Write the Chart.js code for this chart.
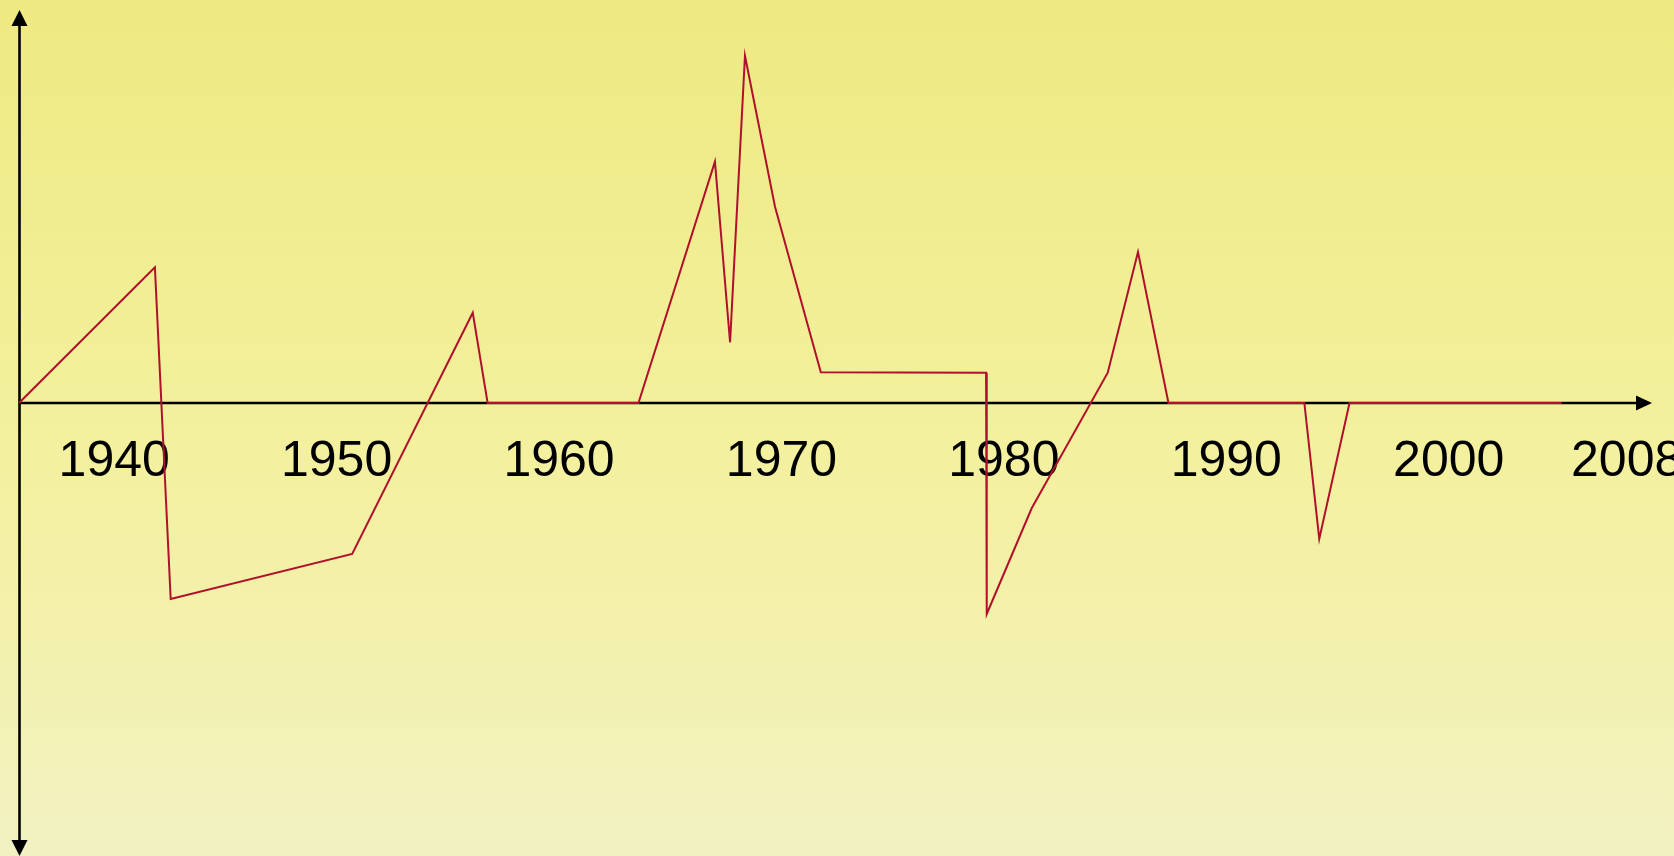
<!DOCTYPE html>
<html>
<head>
<meta charset="utf-8">
<title>Timeline</title>
<script src="https://cdn.jsdelivr.net/npm/chart.js@4/dist/chart.umd.min.js"></script>
<style>
  html, body { margin: 0; padding: 0; background: #f1ee9c; }
  canvas { display: block; }
</style>
</head>
<body>
<canvas id="chart" width="1674" height="856"></canvas>
<script>
// Years along the horizontal axis and the swing above / below the baseline
const years = [1935.72, 1941.83, 1942.54, 1950.70, 1956.12, 1956.79, 1963.57,
               1967.01, 1967.69, 1968.36, 1969.71, 1971.77, 1979.20, 1979.23,
               1981.25, 1984.67, 1986.03, 1987.40, 1993.51, 1994.18, 1995.54, 2005.08];
const swing = [0, 13.57, -19.6, -15.1, 9.03, 0, 0,
               24.13, 6.07, 34.73, 19.63, 3.07, 3.03, -21.1,
               -10.53, 3.03, 15.1, 0, 0, -13.6, 0, 0];
const tickYears = [1940, 1950, 1960, 1970, 1980, 1990, 2000, 2008];

const xRange = [1935.72, 2009.14];
const yRange = [-45.3, 39.3];

const points = years.map((x, i) => ({ x: x, y: swing[i] }));

// Soft yellow backdrop across the whole canvas
const backdrop = {
  id: 'backdrop',
  beforeDraw(chart) {
    const { ctx, width, height } = chart;
    const g = ctx.createLinearGradient(0, 0, 0, height);
    g.addColorStop(0, '#eee981');
    g.addColorStop(0.25, '#f0ed90');
    g.addColorStop(0.5, '#f3f09d');
    g.addColorStop(0.75, '#f3f1ad');
    g.addColorStop(1, '#f1f1c2');
    ctx.save();
    ctx.fillStyle = g;
    ctx.fillRect(0, 0, width, height);
    ctx.restore();
  }
};

// Axis lines with arrowheads: vertical at the left edge, horizontal along zero
const arrowAxes = {
  id: 'arrowAxes',
  beforeDatasetsDraw(chart) {
    const { ctx, chartArea } = chart;
    const y0 = chart.scales.y.getPixelForValue(0);
    const x0 = chartArea.left + 0.5;
    const head = 16, half = 8;
    ctx.save();
    ctx.strokeStyle = '#000';
    ctx.fillStyle = '#000';
    ctx.lineWidth = 2.6;

    ctx.beginPath();
    ctx.moveTo(x0, chartArea.top + head - 1);
    ctx.lineTo(x0, chartArea.bottom - head + 1);
    ctx.stroke();
    ctx.beginPath();
    ctx.moveTo(x0, chartArea.top);
    ctx.lineTo(x0 - half, chartArea.top + head);
    ctx.lineTo(x0 + half, chartArea.top + head);
    ctx.closePath();
    ctx.fill();
    ctx.beginPath();
    ctx.moveTo(x0, chartArea.bottom);
    ctx.lineTo(x0 - half, chartArea.bottom - head);
    ctx.lineTo(x0 + half, chartArea.bottom - head);
    ctx.closePath();
    ctx.fill();

    ctx.beginPath();
    ctx.moveTo(x0, y0);
    ctx.lineTo(chartArea.right - head + 1, y0);
    ctx.stroke();
    ctx.beginPath();
    ctx.moveTo(chartArea.right, y0);
    ctx.lineTo(chartArea.right - head, y0 - 7.5);
    ctx.lineTo(chartArea.right - head, y0 + 7.5);
    ctx.closePath();
    ctx.fill();
    ctx.restore();
  }
};

new Chart(document.getElementById('chart'), {
  type: 'line',
  data: {
    datasets: [{
      data: points,
      borderColor: '#b0102c',
      borderWidth: 2,
      pointRadius: 0,
      tension: 0,
      fill: false
    }]
  },
  options: {
    responsive: false,
    animation: false,
    events: [],
    layout: { padding: { left: 19, right: 22, top: 10, bottom: 0 } },
    plugins: { legend: { display: false }, tooltip: { enabled: false } },
    scales: {
      y: {
        type: 'linear',
        display: false,
        min: yRange[0],
        max: yRange[1]
      },
      x: {
        type: 'linear',
        position: { y: 0 },
        min: xRange[0],
        max: xRange[1],
        grid: { display: false, drawTicks: false },
        border: { display: false },
        afterBuildTicks(scale) {
          scale.ticks = tickYears.map(v => ({ value: v }));
        },
        afterFit(scale) {
          scale.paddingLeft = 0;
          scale.paddingRight = 0;
        },
        ticks: {
          autoSkip: false,
          maxRotation: 0,
          minRotation: 0,
          padding: 29,
          color: '#000',
          font: { family: '"Liberation Sans", Arial, sans-serif', size: 50 },
          callback: (v) => String(v)
        }
      }
    }
  },
  plugins: [backdrop, arrowAxes]
});
</script>
</body>
</html>
